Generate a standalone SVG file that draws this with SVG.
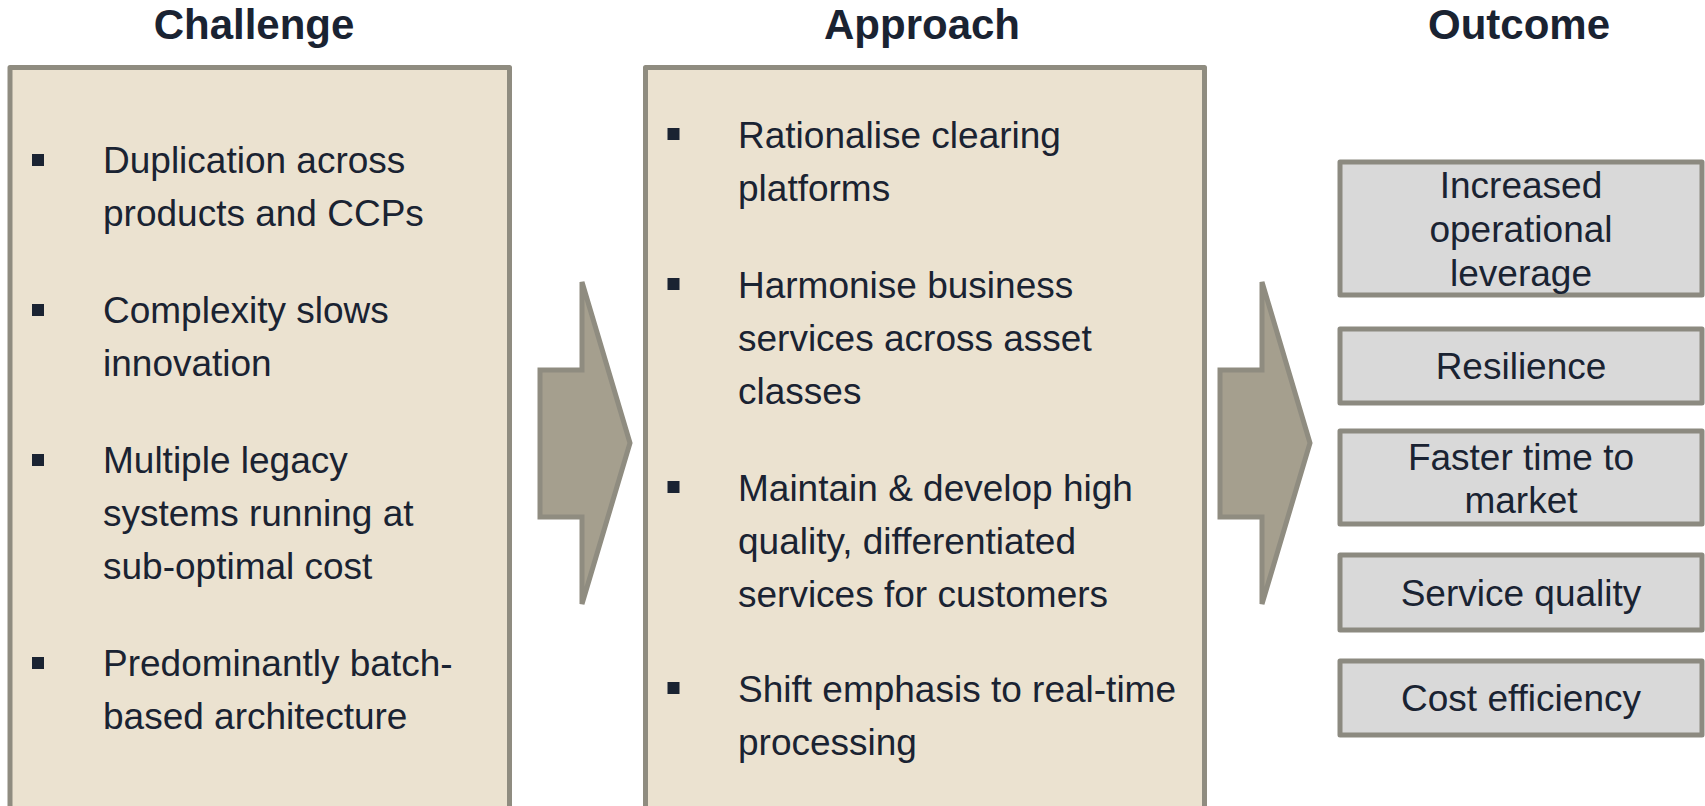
<svg xmlns="http://www.w3.org/2000/svg" width="1705" height="806" viewBox="0 0 1705 806">
  <style>
    .title { font-family: "Liberation Sans", Arial, sans-serif; font-weight: bold; font-size: 42px; fill: #1a2332; text-anchor: middle; }
    .body { font-family: "Liberation Sans", Arial, sans-serif; font-size: 37px; fill: #1a2332; }
    .ctr { text-anchor: middle; }
    .panel { fill: #ebe2d0; stroke: #8f8c80; stroke-width: 5; stroke-linejoin: round; }
    .result { fill: #d9d9d9; stroke: #8c8a80; stroke-width: 5; stroke-linejoin: round; }
    .flow { fill: #a59f8e; stroke: #8f8c80; stroke-width: 5; stroke-linejoin: miter; }
    .bullet { fill: #1a2332; }
  </style>
  <defs>
    <polygon id="flowArrow" class="flow" points="540,370 582,370 582,282 630,443 582,604 582,517 540,517"/>
    <rect id="dot" class="bullet" x="-6" y="-6" width="12" height="12"/>
  </defs>

  <rect width="1705" height="806" fill="#ffffff"/>

  <!-- column headings -->
  <g id="headings">
    <text class="title" x="254" y="39">Challenge</text>
    <text class="title" x="922" y="39">Approach</text>
    <text class="title" x="1519" y="39">Outcome</text>
  </g>

  <!-- challenge panel -->
  <g id="challenge">
    <rect class="panel" x="10" y="67.5" width="499.5" height="745"/>
    <use href="#dot" x="38" y="160"/>
    <text class="body" x="103" y="173">Duplication across</text>
    <text class="body" x="103" y="226">products and CCPs</text>
    <use href="#dot" x="38" y="310"/>
    <text class="body" x="103" y="323">Complexity slows</text>
    <text class="body" x="103" y="376">innovation</text>
    <use href="#dot" x="38" y="460"/>
    <text class="body" x="103" y="473">Multiple legacy</text>
    <text class="body" x="103" y="526">systems running at</text>
    <text class="body" x="103" y="579">sub-optimal cost</text>
    <use href="#dot" x="38" y="663"/>
    <text class="body" x="103" y="676">Predominantly batch-</text>
    <text class="body" x="103" y="729">based architecture</text>
  </g>

  <!-- approach panel -->
  <g id="approach">
    <rect class="panel" x="645.5" y="67.5" width="559" height="745"/>
    <use href="#dot" x="673.5" y="134"/>
    <text class="body" x="738" y="148">Rationalise clearing</text>
    <text class="body" x="738" y="201">platforms</text>
    <use href="#dot" x="673.5" y="284"/>
    <text class="body" x="738" y="298">Harmonise business</text>
    <text class="body" x="738" y="351">services across asset</text>
    <text class="body" x="738" y="404">classes</text>
    <use href="#dot" x="673.5" y="487"/>
    <text class="body" x="738" y="501">Maintain &amp; develop high</text>
    <text class="body" x="738" y="554">quality, differentiated</text>
    <text class="body" x="738" y="607">services for customers</text>
    <use href="#dot" x="673.5" y="688"/>
    <text class="body" x="738" y="702">Shift emphasis to real-time</text>
    <text class="body" x="738" y="755">processing</text>
  </g>

  <!-- outcome boxes -->
  <g id="outcome-leverage">
    <rect class="result" x="1340" y="162" width="362" height="133"/>
    <text class="body ctr" x="1521" y="198">Increased</text>
    <text class="body ctr" x="1521" y="242">operational</text>
    <text class="body ctr" x="1521" y="286">leverage</text>
  </g>
  <g id="outcome-resilience">
    <rect class="result" x="1340" y="329" width="362" height="74"/>
    <text class="body ctr" x="1521" y="379">Resilience</text>
  </g>
  <g id="outcome-time-to-market">
    <rect class="result" x="1340" y="431" width="362" height="93"/>
    <text class="body ctr" x="1521" y="470">Faster time to</text>
    <text class="body ctr" x="1521" y="513">market</text>
  </g>
  <g id="outcome-service-quality">
    <rect class="result" x="1340" y="555" width="362" height="75"/>
    <text class="body ctr" x="1521" y="606">Service quality</text>
  </g>
  <g id="outcome-cost-efficiency">
    <rect class="result" x="1340" y="661" width="362" height="74"/>
    <text class="body ctr" x="1521" y="711">Cost efficiency</text>
  </g>

  <!-- flow arrows between columns -->
  <g id="connectors">
    <use href="#flowArrow"/>
    <use href="#flowArrow" transform="translate(680,0)"/>
  </g>
</svg>
